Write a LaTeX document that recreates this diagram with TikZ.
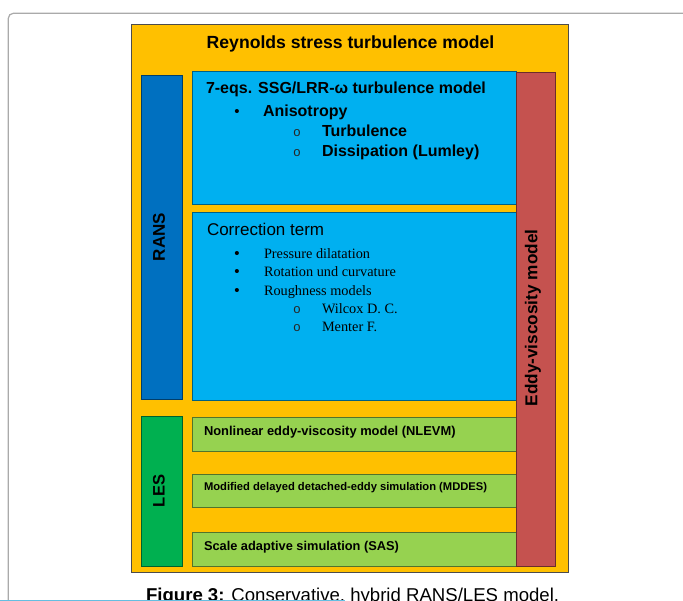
\documentclass[tikz,border=0pt]{standalone}
\usepackage{fontspec}
\setmainfont{Liberation Sans}
\newfontfamily\tnr{Liberation Serif}
\newfontfamily\cour{Liberation Mono}
\definecolor{orangeY}{RGB}{255,192,0}
\definecolor{ransblue}{RGB}{0,112,192}
\definecolor{skyblue}{RGB}{0,176,240}
\definecolor{redbar}{RGB}{197,82,79}
\definecolor{lesgreen}{RGB}{0,176,80}
\definecolor{litegreen}{RGB}{150,210,80}
\definecolor{cardgray}{RGB}{170,170,170}
\definecolor{lineblue}{RGB}{100,190,225}
\newcommand{\fsz}[1]{\fontsize{#1}{#1}\selectfont}
\tikzset{
  panel/.style={fill=#1, draw=#1!55!black, line width=0.7pt, inner sep=0pt, outer sep=0pt, anchor=north west},
  txt/.style={inner sep=0pt, outer sep=0pt, anchor=base west, text=black},
  bulletmark/.style={inner sep=0pt, outer sep=0pt, anchor=base, text=black, font=\fsz{15}},
  circmark/.style={inner sep=0pt, outer sep=0pt, anchor=base, text=black!85, font=\cour\fsz{13}},
  vert/.style={inner sep=0pt, outer sep=0pt, rotate=90, text=black, font=\bfseries}
}
\begin{document}
\begin{tikzpicture}[x=1pt,y=-1pt]
\useasboundingbox (0,0) rectangle (683,601);
\clip (0,0) rectangle (683,601);
\fill[white] (0,0) rectangle (683,601);
% card frame
\draw[cardgray, line width=1.2pt, rounded corners=5pt] (8.3,620) -- (8.3,13.3) -- (700,13.3);
% outer box
\node[panel=orangeY, draw=black!70, minimum width=437pt, minimum height=548pt] (outer) at (131.5,24.5) {};
\node[txt, anchor=base, font=\bfseries\fsz{17.6}] (title) at (350.5,48.3) {Reynolds stress turbulence model};
% side bars
\node[panel=ransblue, minimum width=40.5pt, minimum height=324.5pt] (rans) at (141.5,75) {};
\node[panel=lesgreen, minimum width=40.5pt, minimum height=150pt] (les) at (141.5,416) {};
\node[vert, font=\bfseries\fsz{17}] (ranslbl) at (159,237) {RANS};
\node[vert, font=\bfseries\fsz{16.6}] (leslbl) at (159,491) {LES};
% blue boxes
\node[panel=skyblue, minimum width=323.5pt, minimum height=132.5pt] (blueA) at (192.5,71.5) {};
\node[panel=skyblue, minimum width=323.5pt, minimum height=187.5pt] (blueB) at (192.5,212.5) {};
% green boxes
\node[panel=litegreen, minimum width=324pt, minimum height=34.5pt] (greenA) at (192,417) {};
\node[panel=litegreen, minimum width=324pt, minimum height=33.5pt] (greenB) at (192,474) {};
\node[panel=litegreen, minimum width=324pt, minimum height=34pt] (greenC) at (192,532) {};
% red bar
\node[panel=redbar, minimum width=39pt, minimum height=494pt] (red) at (516,72) {};
\node[vert, font=\bfseries\fsz{17.2}] (redlbl) at (533,318) {Eddy-viscosity model};
% blue box A text
\node[txt, font=\bfseries\fsz{16}] (eqs) at (206,94) {7-eqs. SSG/LRR-ω turbulence model};
\node[bulletmark] (b1) at (237,117) {•};
\node[txt, font=\bfseries\fsz{16}] (aniso) at (263,117) {Anisotropy};
\node[circmark] (o1) at (297,137) {o};
\node[txt, font=\bfseries\fsz{16}] (turb) at (322,137) {Turbulence};
\node[circmark] (o2) at (297,157) {o};
\node[txt, font=\bfseries\fsz{16}] (diss) at (322,157) {Dissipation (Lumley)};
% blue box B text
\node[txt, font=\fsz{17}] (corr) at (207,235.3) {Correction term};
\node[bulletmark] (b2) at (237,258.7) {•};
\node[txt, font=\tnr\fsz{14.3}] (press) at (264,258.7) {Pressure dilatation};
\node[bulletmark] (b3) at (237,277) {•};
\node[txt, font=\tnr\fsz{14.3}] (rot) at (264,277) {Rotation und curvature};
\node[bulletmark] (b4) at (237,295.7) {•};
\node[txt, font=\tnr\fsz{14.3}] (rough) at (264,295.7) {Roughness models};
\node[circmark] (o3) at (297,314) {o};
\node[txt, font=\tnr\fsz{14.3}] (wil) at (322,314) {Wilcox D. C.};
\node[circmark] (o4) at (297,332) {o};
\node[txt, font=\tnr\fsz{14.3}] (ment) at (322,332) {Menter F.};
% green texts
\node[txt, font=\bfseries\fsz{12.9}] (nlevm) at (204,436) {Nonlinear eddy-viscosity model (NLEVM)};
\node[txt, font=\bfseries\fsz{11.2}] (mddes) at (204,490.7) {Modified delayed detached-eddy simulation (MDDES)};
\node[txt, font=\bfseries\fsz{12.8}] (sas) at (204,550.7) {Scale adaptive simulation (SAS)};
% caption
\node[txt, font=\fsz{18.6}] (cap) at (146,601) {\textbf{Figure 3:} Conservative, hybrid RANS/LES model.};
\coordinate (lineA) at (0,600.5);
\coordinate (lineB) at (345,600.5);
\draw[lineblue, line width=1.5pt] (lineA) -- (lineB);
\end{tikzpicture}
\end{document}
